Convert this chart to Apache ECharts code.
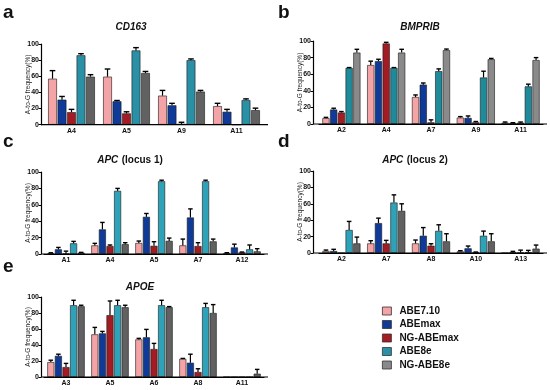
<!DOCTYPE html>
<html>
<head>
<meta charset="utf-8">
<script src="https://cdn.jsdelivr.net/npm/echarts@6/dist/echarts.min.js"></script>
<style>
html,body{margin:0;padding:0;background:#fff;}
#chart{width:550px;height:390px;}
</style>
</head>
<body>
<div id="chart"></div>
<script>
// ---------- data ----------
const seriesNames = ['ABE7.10', 'ABEmax', 'NG-ABEmax', 'ABE8e', 'NG-ABE8e'];
const yTicks = [0, 20, 40, 60, 80, 100];

// panel a: CD163
const aCategories = ['A4', 'A5', 'A9', 'A11'];
const aABE710 = [57, 59.5, 36, 23];
const aABE710Err = [10, 9.5, 6.5, 3.5];
const aABEmax = [31, 29, 24, 16];
const aABEmaxErr = [4, 1, 2.5, 3];
const aNGABEmax = [15.5, 14, 1, 0];
const aNGABEmaxErr = [3.5, 2, 2, 0];
const aABE8e = [86, 92, 80, 30.5];
const aABE8eErr = [2, 3.5, 1.5, 1.5];
const aNGABE8e = [59.5, 64, 41, 18];
const aNGABE8eErr = [2.5, 2, 1.5, 2.5];

// panel b: BMPRIB
const bCategories = ['A2', 'A4', 'A7', 'A9', 'A11'];
const bABE710 = [7, 71, 32.5, 7.7, 1.6];
const bABE710Err = [1, 4.7, 2.5, 1.2, 0.8];
const bABEmax = [17.4, 75.7, 47.4, 7.3, 1.2];
const bABEmaxErr = [1.6, 2.3, 2, 2.4, 0.4];
const bNGABEmax = [13.8, 97, 2, 2, 1.6];
const bNGABEmaxErr = [1.2, 1.4, 3, 1, 0.8];
const bABE8e = [67.6, 67.6, 63.6, 56, 45.3];
const bABE8eErr = [0.4, 0.4, 2.8, 7.6, 2.7];
const bNGABE8e = [86, 86, 89, 78, 77];
const bNGABE8eErr = [4, 4, 1.3, 1, 3];

// panel c: APC (locus 1)
const cCategories = ['A1', 'A4', 'A5', 'A7', 'A12'];
const cABE710 = [0.8, 10.5, 13.4, 10.5, 1.2];
const cABE710Err = [0.7, 2.5, 2.4, 7.7, 0.4];
const cABEmax = [5.7, 30, 45.3, 44.5, 8];
const cABEmaxErr = [2.3, 8.5, 4.1, 10.5, 4];
const cNGABEmax = [0.5, 9.7, 10, 9.7, 2];
const cNGABEmaxErr = [3, 1.3, 5, 4.1, 0.4];
const cABE8e = [13, 77, 88.7, 88.7, 5.7];
const cABE8eErr = [2.4, 3, 1.3, 1.3, 5.3];
const cNGABE8e = [1.6, 12, 16, 15.4, 3.2];
const cNGABE8eErr = [0.4, 1.8, 3.4, 2.8, 3.3];

// panel d: APC (locus 2)
const dCategories = ['A2', 'A7', 'A8', 'A10', 'A13'];
const dABE710 = [2.4, 11.7, 11.7, 2, 0];
const dABE710Err = [1.2, 3.3, 4.1, 0.8, 0];
const dABEmax = [2.4, 36.4, 21, 5.7, 1];
const dABEmaxErr = [2.1, 6.1, 10, 2.8, 1];
const dNGABEmax = [0, 11.7, 8.9, 0.8, 0.5];
const dNGABEmaxErr = [0, 3.7, 2.4, 0.4, 3];
const dABE8e = [28, 61.5, 27, 21, 1];
const dABE8eErr = [10.5, 9.4, 7.4, 5.7, 2.2];
const dNGABE8e = [11.7, 51.4, 14.2, 14.2, 5.3];
const dNGABE8eErr = [7.7, 8.6, 9.3, 9.3, 4.4];

// panel e: APOE
const eCategories = ['A3', 'A5', 'A6', 'A8', 'A11'];
const eABE710 = [18.6, 53.3, 47, 22.7, 0];
const eABE710Err = [2.4, 8.7, 1.3, 0.5, 0];
const eABEmax = [26.4, 54.5, 49.6, 17.8, 0];
const eABEmaxErr = [2.1, 2.5, 9.9, 10.7, 0];
const eNGABEmax = [12.4, 77.3, 35, 6.2, 0];
const eNGABEmaxErr = [4.6, 17.7, 7, 4.1, 0];
const eABE8e = [89.7, 89.7, 89.7, 87.2, 0];
const eABE8eErr = [6.2, 6.2, 6.2, 4.8, 0];
const eNGABE8e = [88.4, 87.2, 87.2, 80, 4.1];
const eNGABE8eErr = [1.3, 2.5, 0.8, 10.5, 5.4];

// ---------- styling / layout ----------
const baseColors = ['#f4a3a6', '#0f3a98', '#a31c24', '#2a90a6', '#616161'];
const FONT = 'Liberation Sans, Arial, sans-serif';
const CAT_GAP = 0.15, BAR_GAP = 0.08;

const panels = [
  {cats: aCategories, vals: [aABE710, aABEmax, aNGABEmax, aABE8e, aNGABE8e],
   errs: [aABE710Err, aABEmaxErr, aNGABEmaxErr, aABE8eErr, aNGABE8eErr],
   grid: {left: 44, top: 44, width: 220, height: 80.7}, yOff: 3, axisX: [41, 268],
   colors: baseColors},
  {cats: bCategories, vals: [bABE710, bABEmax, bNGABEmax, bABE8e, bNGABE8e],
   errs: [bABE710Err, bABEmaxErr, bNGABEmaxErr, bABE8eErr, bNGABE8eErr],
   grid: {left: 319, top: 41, width: 224, height: 83}, yOff: 6, axisX: [313, 547],
   colors: ['#f4a3a6', '#0f3a98', '#a31c24', '#1f8a99', '#8a8a8a']},
  {cats: cCategories, vals: [cABE710, cABEmax, cNGABEmax, cABE8e, cNGABE8e],
   errs: [cABE710Err, cABEmaxErr, cNGABEmaxErr, cABE8eErr, cNGABE8eErr],
   grid: {left: 44, top: 172, width: 220, height: 82}, yOff: 3, axisX: [41, 268],
   colors: ['#f4a3a6', '#0f3a98', '#a31c24', '#2ea2b8', '#616161']},
  {cats: dCategories, vals: [dABE710, dABEmax, dNGABEmax, dABE8e, dNGABE8e],
   errs: [dABE710Err, dABEmaxErr, dNGABEmaxErr, dABE8eErr, dNGABE8eErr],
   grid: {left: 319, top: 171, width: 224, height: 82}, yOff: 6, axisX: [313, 547],
   colors: ['#f4a3a6', '#0f3a98', '#a31c24', '#2ea2b8', '#616161']},
  {cats: eCategories, vals: [eABE710, eABEmax, eNGABEmax, eABE8e, eNGABE8e],
   errs: [eABE710Err, eABEmaxErr, eNGABEmaxErr, eABE8eErr, eNGABE8eErr],
   grid: {left: 44, top: 297, width: 220, height: 80}, yOff: 3, axisX: [41, 268],
   colors: ['#f4a3a6', '#0f3a98', '#a31c24', '#2ea2b8', '#616161']}
];

const grids = [], xAxes = [], yAxes = [], series = [], graphics = [];

panels.forEach((p, gi) => {
  grids.push(Object.assign({containLabel: false}, p.grid));
  xAxes.push({
    type: 'category', gridIndex: gi, data: p.cats,
    axisLine: {show: true, lineStyle: {color: '#000', width: 1.2}},
    axisTick: {show: false},
    axisLabel: {color: '#111', fontSize: 7, fontWeight: 'bold', fontFamily: FONT, margin: 3},
    splitLine: {show: false}
  });
  yAxes.push({
    type: 'value', gridIndex: gi, min: 0, max: 100, interval: 20, offset: p.yOff,
    name: 'A-to-G frequency(%)', nameLocation: 'middle', nameGap: 9, nameMoveOverlap: false,
    nameTextStyle: {fontSize: 6.5, color: '#222', fontFamily: FONT},
    axisLine: {show: true, lineStyle: {color: '#000', width: 1.2}},
    axisTick: {show: true, length: 2.5, lineStyle: {color: '#000', width: 1}},
    axisLabel: {color: '#111', fontSize: 7, fontWeight: 'bold', fontFamily: FONT, margin: 2},
    splitLine: {show: false}
  });
  p.vals.forEach((v, si) => {
    series.push({
      type: 'bar', name: seriesNames[si], xAxisIndex: gi, yAxisIndex: gi,
      data: v, barCategoryGap: (CAT_GAP * 100) + '%', barGap: (BAR_GAP * 100) + '%',
      itemStyle: {color: p.colors[si], borderColor: '#1a1a1a', borderWidth: 0.6},
      silent: true, animation: false
    });
  });
  p.vals.forEach((v, si) => {
    const data = v.map((val, ci) => [ci, val, p.errs[si][ci]]);
    series.push({
      type: 'custom', name: 'err', xAxisIndex: gi, yAxisIndex: gi, data: data,
      silent: true, animation: false, z: 5,
      renderItem: function (params, api) {
        const err = api.value(2);
        if (!(err > 0)) return null;
        const ci = api.value(0), val = api.value(1);
        const cw = api.size([1, 0])[0];
        const groupW = cw * (1 - CAT_GAP);
        const n = 5;
        const w = groupW / (n + (n - 1) * BAR_GAP);
        const base = api.coord([ci, val]);
        const top = api.coord([ci, val + err]);
        const x = base[0] - groupW / 2 + si * w * (1 + BAR_GAP) + w / 2;
        const cap = w * 0.32;
        return {
          type: 'group',
          children: [
            {type: 'line', shape: {x1: x, y1: base[1], x2: x, y2: top[1]}, style: {stroke: '#000', lineWidth: 1.2}},
            {type: 'line', shape: {x1: x - cap, y1: top[1], x2: x + cap, y2: top[1]}, style: {stroke: '#000', lineWidth: 1.4}}
          ]
        };
      }
    });
  });
  const yb = p.grid.top + p.grid.height;
  graphics.push({type: 'line', silent: true, z: 10,
    shape: {x1: p.axisX[0], y1: yb, x2: p.axisX[1], y2: yb},
    style: {stroke: '#000', lineWidth: 1.2}});
});

// panel letters and titles
const letters = [['a', 3, 3], ['b', 278, 3], ['c', 3, 132], ['d', 278, 132], ['e', 3, 257]];
letters.forEach(l => graphics.push({type: 'text', x: l[1], y: l[2], silent: true,
  style: {text: l[0], font: 'bold 19px ' + FONT, fill: '#111'}}));

const titles = [
  {x: 131, y: 27, text: '{i|CD163}'},
  {x: 420, y: 27, text: '{i|BMPRIB}'},
  {x: 130, y: 160, text: '{i|APC} {n|(locus 1)}'},
  {x: 415, y: 160, text: '{i|APC} {n|(locus 2)}'},
  {x: 140, y: 287, text: '{i|APOE}'}
];
titles.forEach(t => graphics.push({type: 'text', x: t.x, y: t.y, silent: true,
  style: {text: t.text, align: 'center', verticalAlign: 'middle', fill: '#111',
    rich: {
      i: {fontStyle: 'italic', fontWeight: 'bold', fontSize: 10, fontFamily: FONT, fill: '#111'},
      n: {fontWeight: 'bold', fontSize: 10, fontFamily: FONT, fill: '#111'}
    }}}));

const chart = echarts.init(document.getElementById('chart'), null, {renderer: 'canvas'});
chart.setOption({
  animation: false,
  grid: grids,
  xAxis: xAxes,
  yAxis: yAxes,
  legend: {
    orient: 'vertical', left: 382, top: 306, itemWidth: 9, itemHeight: 8, itemGap: 3.5,
    padding: 0, icon: 'rect', selectedMode: false,
    textStyle: {fontSize: 10, fontWeight: 'bold', color: '#111', fontFamily: FONT, padding: [0, 0, 0, 3]},
    data: seriesNames.map((n, i) => ({name: n, itemStyle: {color: i === 4 ? '#8a8a8a' : baseColors[i], borderColor: '#333', borderWidth: 0.8}}))
  },
  series: series,
  graphic: graphics
});
</script>
</body>
</html>
